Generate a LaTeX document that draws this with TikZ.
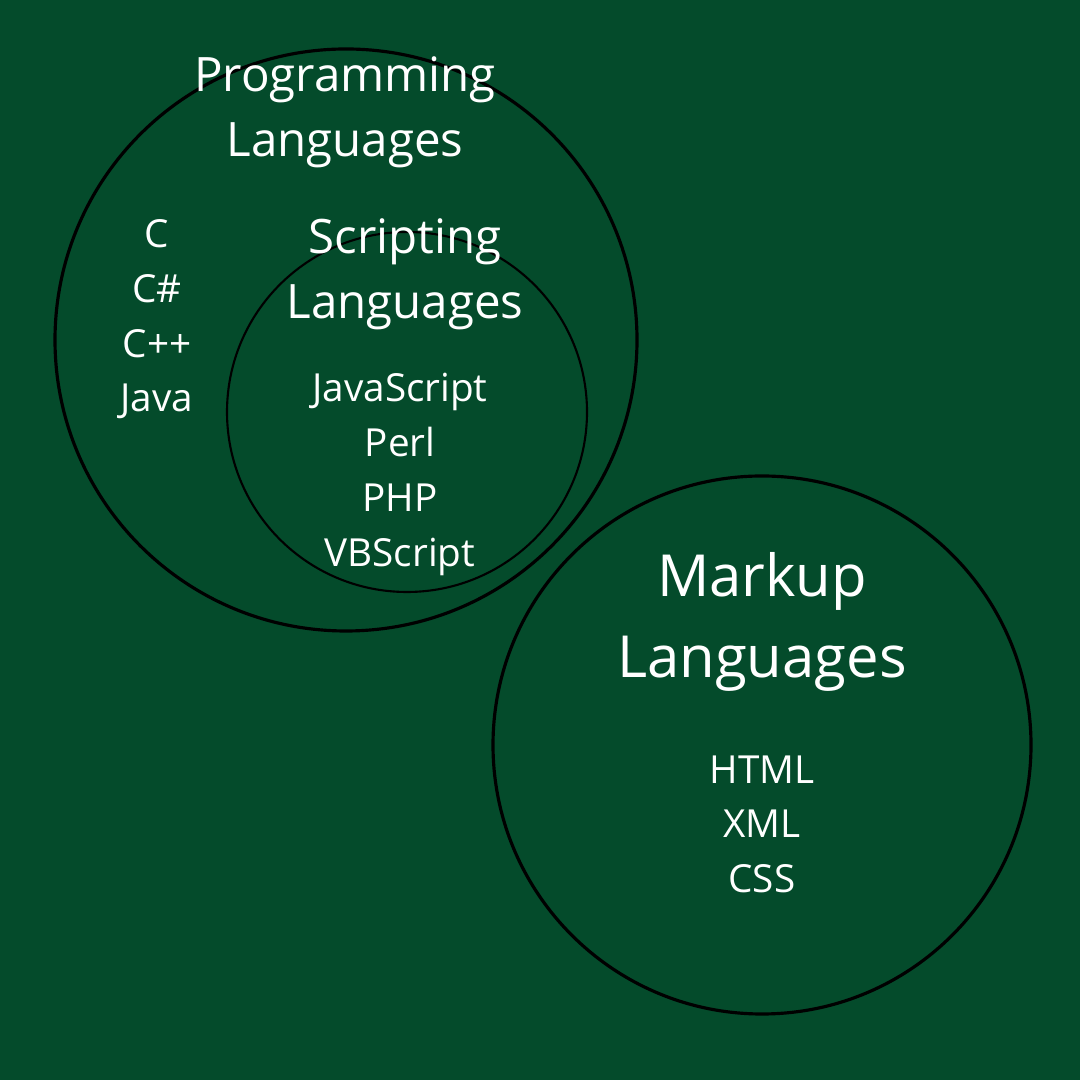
\documentclass[tikz,border=0pt]{standalone}
\usepackage{fontspec}
\setmainfont{Open Sans}
\usetikzlibrary{positioning}
\definecolor{bggreen}{HTML}{044B2B}
\tikzset{
  title/.style={text=white, align=center, font=\fontsize{13.5}{18.5}\selectfont},
  bigtitle/.style={text=white, align=center, font=\fontsize{16.5}{23}\selectfont},
  items/.style={text=white, align=center, font=\fontsize{11}{15.6}\selectfont},
}
\begin{document}
\begin{tikzpicture}
  % background
  \fill[bggreen] (0,0) rectangle (10.8,10.8);
  \useasboundingbox (0,0) rectangle (10.8,10.8);

  % circles
  \draw[line width=0.9pt] (3.46,7.40) circle (2.91);
  \draw[line width=0.6pt] (4.07,6.68) circle (1.80);
  \draw[line width=0.9pt] (7.62,3.35) circle (2.69);

  % programming languages
  \node[title] (prog) at (3.45,9.68) {Programming\\Languages};
  \node[items, anchor=north] (progitems) at (1.57,8.73) {C\\C\#\\C++\\Java};

  % scripting languages
  \node[title] (script) at (4.05,8.06) {Scripting\\Languages};
  \node[items, anchor=north] (scriptitems) at (4.00,7.19) {JavaScript\\Perl\\PHP\\VBScript};

  % markup languages
  \node[bigtitle] (markup) at (7.62,4.58) {Markup\\Languages};
  \node[items, anchor=north] (markupitems) at (7.62,3.37) {HTML\\XML\\CSS};
\end{tikzpicture}
\end{document}
